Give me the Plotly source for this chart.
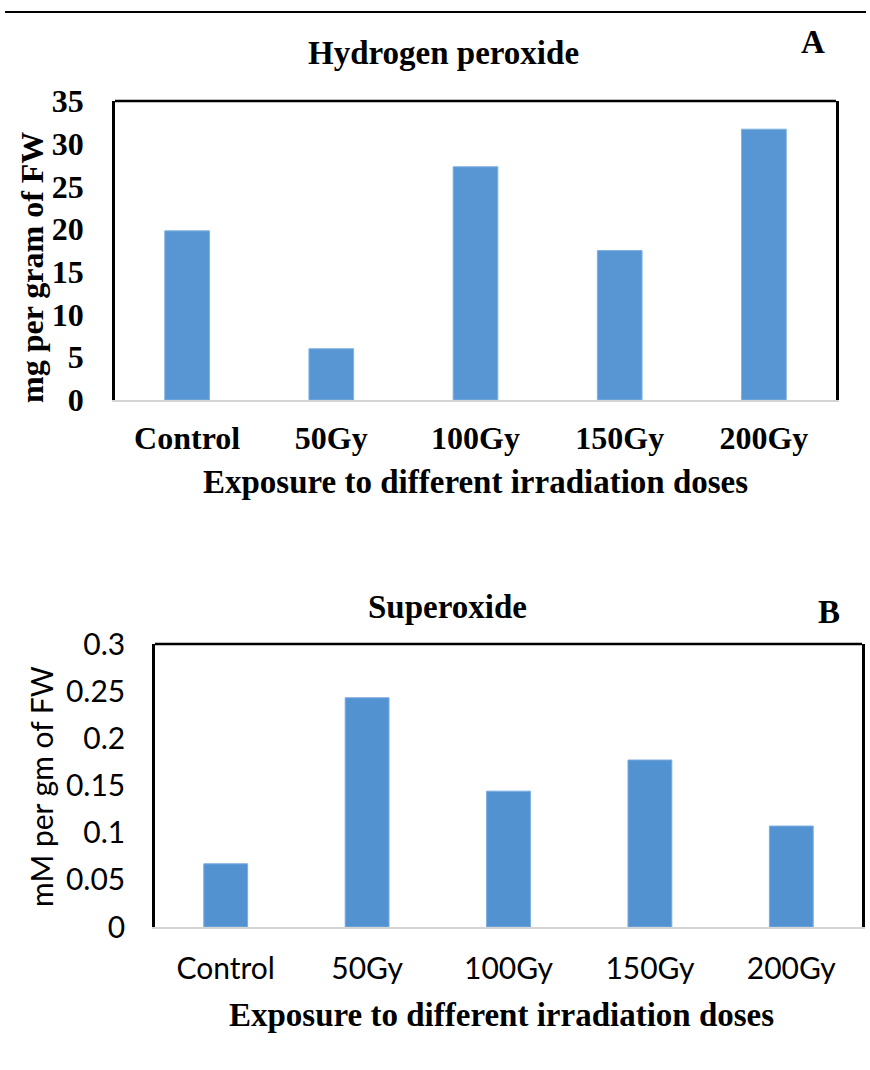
import plotly.graph_objects as go

W, H = 870, 1070

categories = ["Control", "50Gy", "100Gy", "150Gy", "200Gy"]
h2o2_values = [19.8, 6.0, 27.3, 17.5, 31.7]
superoxide_values = [0.067, 0.243, 0.144, 0.177, 0.107]

a_ticks = [0, 5, 10, 15, 20, 25, 30, 35]
b_ticks = [0, 0.05, 0.1, 0.15, 0.2, 0.25, 0.3]
b_ticktext = ["0", "0.05", "0.1", "0.15", "0.2", "0.25", "0.3"]

SERIF = "Liberation Serif, Times New Roman, serif"
SANS = "Lato, Calibri, sans-serif"

def px_x(x):
    return x / W

def px_y(y):
    return 1 - y / H

fig = go.Figure()
fig.add_trace(go.Bar(x=categories, y=h2o2_values, xaxis="x", yaxis="y",
                     marker=dict(color="#5796d2", line=dict(color="#7fb1e2", width=1)),
                     showlegend=False))
fig.add_trace(go.Bar(x=categories, y=superoxide_values, xaxis="x2", yaxis="y2",
                     marker=dict(color="#5292d0", line=dict(color="#7aace0", width=1)),
                     showlegend=False))

A_l, A_r, A_t, A_b = 115, 836, 101, 400
B_l, B_r, B_t, B_b = 155, 862, 644, 927

serif_bold = dict(family=SERIF, size=32, color="black", weight="bold")
sans_reg = dict(family=SANS, size=30, color="black")

fig.update_layout(
    width=W, height=H,
    margin=dict(l=0, r=0, t=0, b=0, pad=0, autoexpand=False),
    paper_bgcolor="white", plot_bgcolor="white",
    bargap=0.69,
    xaxis=dict(domain=[px_x(A_l), px_x(A_r)], anchor="y", automargin=False,
               showline=True, linecolor="#d4d4d4", linewidth=2,
               ticks="", showgrid=False, zeroline=False,
               tickfont=serif_bold, ticklabelstandoff=9, fixedrange=True),
    yaxis=dict(domain=[px_y(A_b), px_y(A_t)], anchor="x", automargin=False,
               range=[0, 35], tickvals=a_ticks,
               showline=True, linecolor="black", linewidth=2.5, mirror=True,
               ticks="", showgrid=False, zeroline=False,
               tickfont=serif_bold, ticklabelstandoff=22, fixedrange=True),
    xaxis2=dict(domain=[px_x(B_l), px_x(B_r)], anchor="y2", automargin=False,
                showline=True, linecolor="#d4d4d4", linewidth=2,
                ticks="", showgrid=False, zeroline=False,
                tickfont=sans_reg, ticklabelstandoff=14, fixedrange=True),
    yaxis2=dict(domain=[px_y(B_b), px_y(B_t)], anchor="x2", automargin=False,
                range=[0, 0.3], tickvals=b_ticks, ticktext=b_ticktext,
                showline=True, linecolor="black", linewidth=2.5, mirror=True,
                ticks="", showgrid=False, zeroline=False,
                tickfont=sans_reg, ticklabelstandoff=21, fixedrange=True),
)

shapes = [
    dict(type="line", xref="paper", yref="paper", x0=px_x(5), x1=px_x(866),
         y0=px_y(12), y1=px_y(12), line=dict(color="black", width=2)),
    dict(type="line", xref="x domain", yref="y domain", x0=0, x1=1, y0=1, y1=1,
         line=dict(color="black", width=2.5)),
    dict(type="line", xref="x2 domain", yref="y2 domain", x0=0, x1=1, y0=1, y1=1,
         line=dict(color="black", width=2.5)),
]
fig.update_layout(shapes=shapes)

def ann(text, x, y, family, size, bold=True, angle=0):
    return dict(text=text, x=px_x(x), y=px_y(y), xref="paper", yref="paper",
                xanchor="center", yanchor="middle", showarrow=False,
                textangle=angle,
                font=dict(family=family, size=size, color="black",
                          weight="bold" if bold else "normal"))

annotations = [
    ann("Hydrogen peroxide", 443, 53, SERIF, 33),
    ann("A", 813, 42, SERIF, 33),
    ann("mg per gram of FW", 32, 268, SERIF, 32, angle=-90),
    ann("Exposure to different irradiation doses", 475, 482, SERIF, 33),
    ann("Superoxide", 447, 607, SERIF, 33),
    ann("B", 829, 612, SERIF, 33),
    ann("mM per gm of FW", 41, 787, SANS, 30, bold=False, angle=-90),
    ann("Exposure to different irradiation doses", 501, 1015, SERIF, 33),
]
fig.update_layout(annotations=annotations)

fig.write_html("out.html")
